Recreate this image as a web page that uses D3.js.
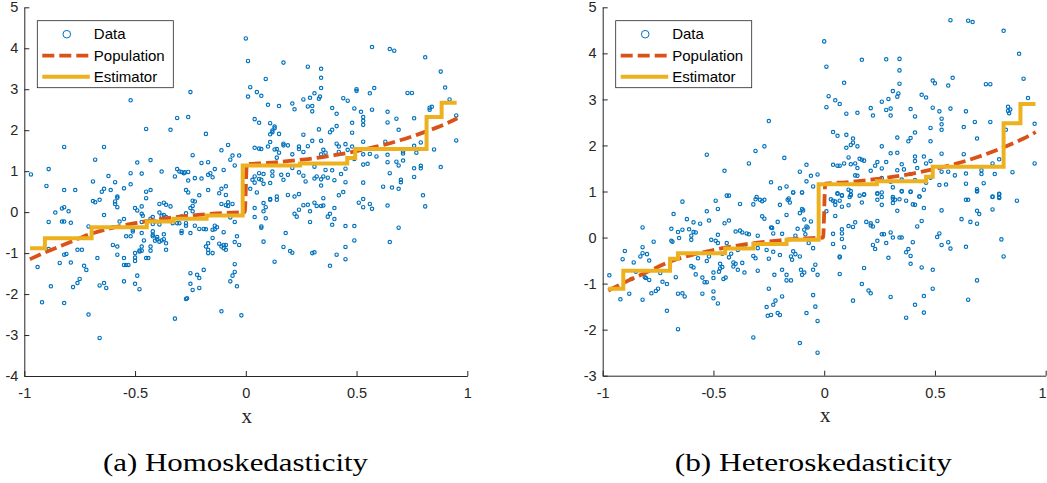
<!DOCTYPE html>
<html><head><meta charset="utf-8">
<script src="https://cdn.jsdelivr.net/npm/d3@7"></script>
<style>body{margin:0;background:#fff}svg{display:block}</style>
</head><body>
<svg id="chart" width="1047" height="483"></svg>
<script>
// ---------------- data ----------------
const xTicks = [-1, -0.5, 0, 0.5, 1];
const xTickLabels = ["-1", "-0.5", "0", "0.5", "1"];
const yTicksHomo = [-4, -3, -2, -1, 0, 1, 2, 3, 4, 5];
const yTicksHetero = [-3, -2, -1, 0, 1, 2, 3, 4, 5];
const legendLabels = ["Data", "Population", "Estimator"];
const captions = ["(a) Homoskedasticity", "(b) Heteroskedasticity"];
const xLabel = "x";

// population (true regression function)
const popX = [-0.975, -0.9, -0.8, -0.7, -0.6, -0.5, -0.4, -0.3, -0.2, -0.1, -0.005, 0.005, 0.1, 0.2, 0.3, 0.4, 0.5, 0.6, 0.7, 0.8, 0.9, 0.955];
const popY = [-1.15, -0.97, -0.75, -0.53, -0.38, -0.27, -0.18, -0.11, -0.06, -0.02, 0.0, 1.17, 1.2, 1.25, 1.31, 1.39, 1.49, 1.61, 1.76, 1.94, 2.15, 2.29];

// estimator step functions (break x, level y)
const estHomoX = [-0.974, -0.907, -0.696, -0.447, -0.327, -0.177, -0.014, 0.245, 0.458, 0.494, 0.816, 0.884, 0.952];
const estHomoY = [-0.88, -0.64, -0.37, -0.23, -0.16, -0.08, 1.14, 1.19, 1.32, 1.54, 2.32, 2.67, 2.67];
const estHeteroX = [-0.975, -0.907, -0.696, -0.66, -0.447, -0.32, -0.17, -0.025, 0.238, 0.46, 0.49, 0.81, 0.886, 0.954];
const estHeteroY = [-1.11, -0.72, -0.46, -0.34, -0.24, -0.14, -0.05, 1.16, 1.22, 1.32, 1.54, 2.48, 2.9, 2.9];

// scatter data [x, y]
const homoData = [
[-0.97,0.92],[-0.89,1.05],[-0.9,0.64],[-0.82,1.59],[-0.82,0.54],[-0.77,0.54],[-0.69,0.75],[-0.68,1.28],[-0.64,1.59],[-0.62,0.88],[-0.65,0.5],[-0.64,0.57],[-0.61,0.54],[-0.59,0.73],[-0.58,0.38],[-0.58,0.35],[-0.55,0.58],[-0.52,2.73],[-0.52,0.95],[-0.52,0.68],[-0.49,1.21],[-0.47,0.94],[-0.45,2.03],[-0.45,0.5],[-0.43,0.54],[-0.43,1.27],[-0.45,0.34],[-0.38,0.99],[-0.34,2.01],[-0.31,2.3],[-0.26,2.32],[-0.25,2.93],[-0.32,0.87],[-0.31,1.05],[-0.3,0.99],[-0.29,0.98],[-0.28,0.95],[-0.275,0.97],[-0.26,0.98],[-0.26,0.77],[-0.27,0.54],[-0.26,0.48],[-0.24,1.39],[-0.23,0.83],[-0.21,0.41],[-0.2,1.2],[-0.2,0.82],[-0.18,1.91],[-0.17,1.22],[-0.17,0.91],[-0.16,0.95],[-0.15,0.85],[-0.17,0.54],[-0.14,1.05],[-0.12,0.46],[-0.11,1.51],[-0.1,1.03],[-0.11,0.57],[-0.09,0.63],[-0.09,0.42],[-0.08,1.64],[-0.07,1.28],[-0.06,1.38],[-0.05,1.14],[-0.03,1.38],
[-0.69,0.27],[-0.68,0.24],[-0.66,0.3],[-0.59,0.26],[-0.59,0.2],[-0.58,0.12],[-0.24,0.28],[-0.23,0.26],[-0.24,0.15],[-0.25,0.1],[-0.11,0.2],[-0.08,0.24],[-0.09,0.17],[-0.08,0.15],[-0.06,0.2],[-0.07,-0.13],[-0.86,-0.01],[-0.83,0.09],[-0.82,0.12],[-0.8,0.02],[-0.89,-0.24],[-0.83,-0.23],[-0.82,-0.23],[-0.79,-0.26],[-0.64,-0.07],[-0.71,-0.35],[-0.57,-0.23],[-0.55,-0.17],[-0.5,0.1],[-0.47,0.14],[-0.49,0.04],[-0.47,-0.04],[-0.465,-0.09],[-0.43,-0.16],[-0.47,-0.24],[-0.42,-0.29],[-0.42,-0.12],[-0.39,0.2],[-0.37,0.23],[-0.36,0.18],[-0.34,0.14],[-0.39,-0.01],[-0.38,-0.09],[-0.39,-0.3],[-0.41,-0.23],[-0.37,-0.07],[-0.36,-0.12],[-0.31,-0.27],[-0.33,-0.27],[-0.3,-0.27],[-0.27,-0.27],[-0.27,-0.33],[-0.29,-0.46],[-0.29,-0.51],[-0.25,-0.51],[-0.23,-0.33],[-0.21,-0.41],[-0.19,-0.41],[-0.18,-0.42],[-0.15,-0.43],[-0.14,-0.33],[-0.13,-0.37],[-0.1,-0.49],[-0.6,-0.37],[-0.51,-0.43],[-0.51,-0.47],[-0.52,-0.59],[-0.54,-0.59],[-0.47,-0.51],[-0.46,-0.69],[-0.42,-0.47],[-0.42,-0.55],[-0.42,-0.59],[-0.4,-0.61],[-0.4,-0.66],[-0.41,-0.7],[-0.39,-0.72],[-0.38,-0.69],[-0.37,-0.66],[-0.37,-0.54],[-0.36,-0.76],[-0.36,-0.92],[-0.43,-0.94],[-0.43,-0.84],[-0.47,-0.94],[-0.47,-0.84],[-0.48,-0.94],[-0.5,-1.0],[-0.5,-1.11],[-0.5,-1.19],[-0.48,-0.96],[-0.45,-1.12],[-0.44,-1.12],[-0.54,-1.29],[-0.55,-1.29],[-0.53,-1.29],[-0.6,-0.8],[-0.58,-0.84],[-0.58,-1.04],[-0.55,-1.12],[-0.94,-1.34],[-0.89,-0.9],[-0.84,-1.24],[-0.82,-1.04],[-0.81,-1.02],[-0.79,-1.23],[-0.76,-0.92],[-0.74,-0.92],[-0.73,-1.31],[-0.72,-1.41],[-0.78,-1.83],[-0.76,-1.73],[-0.75,-1.63],[-0.71,-2.5],[-0.88,-1.81],[-0.92,-2.2],[-0.82,-2.22],[-0.67,-1.12],[-0.66,-1.79],[-0.64,-1.73],[-0.63,-1.85],[-0.66,-3.07],[-0.55,-1.69],[-0.5,-1.75],[-0.48,-1.88],[-0.49,-1.55],[-0.32,-2.6],[-0.27,-2.12],[-0.265,-2.1],[-0.25,-1.49],[-0.25,-1.75],[-0.24,-1.9],[-0.22,-1.53],[-0.21,-1.61],[-0.21,-1.85],[-0.19,-1.41],[-0.18,-0.84],[-0.17,-0.92],[-0.17,-1.0],[-0.17,-0.76],[-0.15,-1.0],[-0.15,-0.63],[-0.14,-0.42],[-0.12,-0.77],[-0.11,-0.84],[-0.1,-0.8],[-0.1,-0.88],[-0.09,-0.8],[-0.09,-0.92],[-0.07,-1.69],[-0.06,-1.55],[-0.05,-1.46],[-0.04,-1.81],[-0.04,-0.59],[-0.03,-0.8],[-0.02,-2.52],[-0.11,-2.42],[-0.29,-0.11],[-0.27,-0.03],[-0.24,0.02],
[0.04,0.1],[0.08,0.22],[0.09,0.12],[0.08,0.02],[0.09,-0.15],[0.04,-0.12],[0.07,-0.35],[0.07,-0.38],[0.08,-0.72],[0.11,0.3],[0.14,0.3],[0.13,-1.21],[0.17,-0.85],[0.18,-0.51],[0.2,-0.95],[0.21,-0.99],[0.22,-0.04],[0.23,-0.11],[0.24,0.06],[0.26,0.17],[0.28,0.18],[0.29,0.02],[0.31,0.23],[0.32,0.15],[0.29,-0.24],[0.31,-0.98],[0.3,-1.0],[0.34,0.15],[0.35,0.16],[0.37,-0.11],[0.38,-0.04],[0.4,-0.17],[0.39,-0.31],[0.4,0.1],[0.45,-0.34],[0.49,-0.34],[0.45,-0.85],[0.41,-1.04],[0.45,-1.15],[0.38,-1.31],[0.49,-0.69],[0.51,0.23],[0.53,0.12],[0.56,0.2],[0.57,0.08],[0.64,0.16],[0.69,-0.38],[0.65,-0.73],[0.81,0.14],[-0.05,-0.24],[-0.05,-0.73],[-0.05,-1.27],
[0.0,4.24],[0.01,3.69],[0.17,3.65],[0.28,3.55],[0.34,3.5],[0.34,3.28],[0.09,3.25],[0.02,3.05],[0.05,2.93],[0.07,2.84],[0.01,2.82],[0.34,3.03],[0.31,2.9],[0.29,2.79],[0.335,2.82],[0.33,2.77],[0.26,2.75],[0.21,2.65],[0.1,2.62],[0.15,2.59],[0.28,2.58],[0.3,2.59],[0.22,2.51],[0.3,2.46],[0.39,2.54],[0.41,2.4],[0.44,2.78],[0.46,2.72],[0.5,3.0],[0.5,2.96],[0.58,3.03],[0.56,2.9],[0.57,4.03],[0.65,3.98],[0.67,3.94],[0.81,3.78],[0.88,3.43],[0.9,3.04],[0.92,2.75],[0.73,2.91],[0.75,2.91],[0.49,2.53],[0.52,2.45],[0.57,2.5],[0.64,2.45],[0.53,2.32],[0.53,2.23],[0.53,2.13],[0.48,2.18],[0.48,1.94],[0.64,2.19],[0.68,2.28],[0.76,2.29],[0.69,2.01],[0.83,2.55],[0.84,2.57],[0.83,2.5],[0.95,2.36],[0.95,1.75],[0.04,2.27],[0.06,2.18],[0.11,2.17],[0.13,2.09],[0.13,2.05],[0.12,1.99],[0.12,1.95],[0.11,1.9],[0.15,1.91],[0.33,2.02],[0.38,1.95],[0.39,2.01],[0.41,2.1],[0.26,1.89],[0.11,1.71],[0.04,1.57],[0.06,1.55],[0.07,1.54],[0.1,1.6],[0.13,1.53],[0.14,1.54],[0.17,1.67],[0.17,1.63],[0.19,1.63],[0.15,1.45],[0.14,1.33],[0.24,1.6],[0.24,1.54],[0.28,1.61],[0.26,1.47],[0.21,1.41],[0.3,1.74],[0.34,1.74],[0.34,1.41],[0.35,1.52],[0.36,1.45],[0.41,1.67],[0.42,1.6],[0.45,1.66],[0.42,1.47],[0.46,1.52],[0.53,1.72],[0.48,1.6],[0.53,1.41],[0.56,1.42],[0.59,1.36],[0.63,1.72],[0.64,1.4],[0.71,1.43],[0.71,1.48],[0.76,1.62],[0.79,1.7],[0.77,1.45],[0.85,1.53],[0.64,1.22],[0.68,1.23],[0.71,1.26],[0.79,1.13],[0.79,1.07],[0.76,1.07],[0.88,1.1],[0.76,0.86],[0.8,0.41],[0.65,0.95],[0.62,0.62],[0.66,0.6],[0.69,0.57],[0.7,0.79],[0.7,0.73],[0.69,1.14],[0.53,0.72],[0.55,1.18],[0.53,1.16],[0.49,1.3],[0.45,1.06],[0.43,0.93],[0.45,0.73],[0.44,0.49],[0.42,0.41],[0.4,0.78],[0.39,1.02],[0.37,0.84],[0.36,1.03],[0.35,0.87],[0.34,0.65],[0.31,1.11],[0.32,0.87],[0.34,0.8],[0.31,0.82],[0.27,0.75],[0.26,0.89],[0.24,0.97],[0.21,1.08],[0.17,0.79],[0.16,0.91],[0.19,0.91],[0.12,0.89],[0.12,0.99],[0.08,0.93],[0.06,0.95],[0.06,0.81],[0.07,0.79],[0.03,0.79],[0.04,0.87],[0.04,0.72],[0.11,0.71],[0.08,0.69],[0.02,0.57],[0.05,0.48],[0.19,0.42],[0.22,0.38],[0.24,0.44],[0.14,0.38],[0.11,0.32],[0.35,0.34],[0.53,0.32]
];

const heteroData = [
[-0.53,1.8],[-0.45,1.45],[-0.43,0.91],[-0.34,1.61],[-0.31,1.88],[-0.27,1.98],[-0.25,2.53],[-0.24,1.2],[-0.2,1.07],[-0.17,1.11],[-0.18,1.73],[-0.14,0.98],[-0.11,1.43],
[0.0,4.26],[0.01,3.71],[0.17,3.86],[0.28,3.87],[0.34,3.88],[0.34,3.63],[0.57,4.72],[0.65,4.71],[0.67,4.68],[0.81,4.49],[0.88,3.99],[0.9,3.45],[0.92,3.03],[0.09,3.36],[0.34,3.34],[0.31,3.18],[0.335,3.13],[0.33,3.06],[0.29,3.01],[0.26,2.95],[0.02,3.07],[0.05,2.98],[0.07,2.9],[0.01,2.83],[0.1,2.69],[0.15,2.71],[0.21,2.81],[0.22,2.65],[0.28,2.77],[0.3,2.8],[0.3,2.65],[0.39,2.79],[0.41,2.63],[0.44,3.1],[0.46,3.04],[0.49,3.41],[0.5,3.35],[0.58,3.47],[0.56,3.3],[0.73,3.33],[0.75,3.33],[0.49,2.82],[0.52,2.74],[0.57,2.8],[0.64,2.74],[0.83,2.84],[0.84,2.78],[0.83,2.75],[0.835,2.7],[0.53,2.58],[0.53,2.46],[0.53,2.34],[0.48,2.38],[0.48,2.09],[0.63,2.4],[0.68,2.51],[0.75,2.51],[0.69,2.15],[0.82,2.34],[0.95,2.47],[0.95,1.61],[0.04,2.29],[0.06,2.21],[0.1,2.23],[0.13,2.15],[0.13,2.06],[0.12,2.01],[0.1,1.95],[0.15,1.98],[0.33,2.17],[0.38,2.09],[0.39,2.16],[0.41,2.28],[0.26,1.98],[0.11,1.74],[0.04,1.58],[0.06,1.56],[0.07,1.56],[0.09,1.61],[0.12,1.59],[0.14,1.61],[0.16,1.71],[0.17,1.69],[0.18,1.67],[0.15,1.51],[0.14,1.35],[0.24,1.64],[0.23,1.56],[0.28,1.64],[0.26,1.5],[0.21,1.45],[0.3,1.83],[0.33,1.84],[0.35,1.59],[0.33,1.46],[0.36,1.48],[0.41,1.76],[0.41,1.66],[0.45,1.76],[0.42,1.51],[0.46,1.61],[0.53,1.82],[0.48,1.66],[0.53,1.43],[0.56,1.43],[0.59,1.35],[0.63,1.81],[0.64,1.39],[0.71,1.46],[0.71,1.38],[0.76,1.61],[0.79,1.7],[0.77,1.38],[0.85,1.42],[0.52,1.14],[0.55,1.15],[0.45,1.04],[0.43,0.89],[0.39,0.99],[0.35,1.01],[0.31,1.09],[0.3,1.21],[0.26,1.29],[0.41,1.25],[0.39,1.38],[0.46,1.19],[0.48,1.3],[0.64,1.17],[0.72,1.18],[0.69,1.05],[0.69,1.01],[0.76,0.88],[0.79,0.95],[0.79,0.88],[0.64,0.82],[0.18,0.94],[0.12,0.92],[0.12,1.01],[0.11,1.04],[0.06,0.96],[0.08,0.92],[-0.05,1.11],[-0.03,1.37],[-0.08,1.58],[-0.06,1.34],[-0.08,1.22],[-0.1,0.98],[0.26,0.98],[0.24,0.96],[0.31,0.88],[0.15,1.34],[0.35,1.26],
[-0.97,-0.82],[-0.9,-0.29],[-0.91,-0.47],[-0.92,-1.34],[-0.88,-1.22],[-0.87,-0.9],[-0.86,-0.54],[-0.85,-0.74],[-0.83,-0.41],[-0.82,0.22],[-0.82,-1.35],[-0.82,-0.21],[-0.82,-0.34],[-0.81,-0.86],[-0.805,-0.88],[-0.8,-0.36],[-0.79,-0.92],[-0.79,-0.5],[-0.78,-1.21],[-0.77,-0.09],[-0.76,-1.16],[-0.75,-1.11],[-0.74,-0.77],[-0.73,-0.96],[-0.71,-1.01],[-0.71,-1.59],[-0.69,0.19],[-0.69,-0.07],[-0.685,-0.09],[-0.68,0.51],[-0.67,-0.86],[-0.66,-1.22],[-0.66,-1.99],[-0.66,0.12],[-0.655,-0.01],[-0.64,0.17],[-0.64,0.78],[-0.64,-1.21],[-0.63,-1.28],[-0.62,0.4],[-0.61,0.18],[-0.6,0.04],[-0.6,-0.05],[-0.59,0.33],[-0.59,0.12],[-0.58,0.11],[-0.6,-0.62],[-0.59,-0.65],[-0.58,-0.8],[-0.57,-0.45],[-0.56,0.3],[-0.55,-1.22],[-0.55,-0.87],[-0.54,-0.97],[-0.53,-0.97],[-0.53,0.57],[-0.53,-0.51],[-0.52,0.37],[-0.51,-0.05],[-0.52,-0.41],[-0.5,-0.76],[-0.5,-0.88],[-0.5,-1.32],[-0.5,-1.17],[-0.49,0.8],[-0.49,-0.07],[-0.48,-0.12],[-0.48,0.06],[-0.48,0.62],[-0.48,-1.43],[-0.475,-0.74],[-0.47,-0.67],[-0.47,-0.57],[-0.46,-0.64],[-0.46,-0.35],[-0.455,-0.9],[-0.45,0.31],[-0.445,-0.87],[-0.44,-0.12],[-0.44,0.91],[-0.43,0.37],[-0.43,-0.43],[-0.42,-0.35],[-0.41,-0.63],[-0.41,-0.54],[-0.4,-0.57],[-0.4,0.13],[-0.39,-0.27],[-0.39,-0.7],[-0.38,0.73],[-0.38,0.15],[-0.37,-0.55],[-0.37,0.11],[-0.36,-0.76],[-0.36,-0.18],[-0.35,0.09],[-0.34,0.07],[-0.32,0.72],[-0.32,-2.17],[-0.32,-0.4],[-0.31,0.83],[-0.305,0.88],[-0.31,-0.45],[-0.3,0.04],[-0.3,-0.72],[-0.3,-0.23],[-0.29,0.82],[-0.28,0.79],[-0.28,0.46],[-0.27,0.41],[-0.27,0.82],[-0.26,-0.27],[-0.26,-1.51],[-0.255,-1.7],[-0.25,-1.11],[-0.25,-0.46],[-0.24,0.22],[-0.235,0.21],[-0.24,-1.68],[-0.23,0.09],[-0.23,-1.46],[-0.23,-0.31],[-0.225,-0.81],[-0.22,-1.37],[-0.21,-1.64],[-0.21,0.34],[-0.2,-1.68],[-0.2,-0.38],[-0.2,0.71],[-0.19,0.08],[-0.19,-1.28],[-0.19,-0.7],[-0.17,-0.81],[-0.17,-0.93],[-0.17,0.49],[-0.165,0.82],[-0.16,0.85],[-0.155,0.76],[-0.15,-0.93],[-0.15,-0.41],[-0.145,-0.48],[-0.14,-0.3],[-0.14,0.98],[-0.13,-0.36],[-0.13,0.04],[-0.12,0.19],[-0.11,-0.41],[-0.11,0.53],[-0.11,-2.29],[-0.105,-0.7],[-0.1,-0.81],[-0.1,0.98],[-0.1,0.62],[-0.095,0.59],[-0.09,0.39],[-0.09,0.17],[-0.09,-0.76],[-0.085,0.07],[-0.08,0.24],[-0.075,0.22],[-0.08,-1.64],[-0.07,-0.12],[-0.06,0.35],[-0.05,-0.23],[-0.05,-0.7],[-0.04,-0.59],[-0.04,-1.5],[-0.03,-1.81],[-0.03,-0.81],[-0.03,-2.5],[-0.05,-1.25],
[0.06,0.95],[0.08,0.91],[0.03,0.83],[0.04,0.8],[0.05,0.78],[0.07,0.8],[0.05,0.71],[0.08,0.67],[0.115,0.88],[0.12,0.93],[0.11,0.7],[0.16,0.91],[0.17,0.76],[0.18,0.93],[0.24,0.95],[0.26,0.88],[0.24,0.82],[0.26,0.71],[0.31,0.84],[0.32,0.82],[0.31,0.75],[0.34,0.83],[0.37,0.8],[0.35,1.0],[0.39,1.0],[0.4,0.72],[0.41,0.71],[0.43,0.89],[0.45,0.64],[0.33,0.58],[0.01,0.57],[0.05,0.47],[0.04,0.08],[0.04,-0.14],[0.08,0.18],[0.08,0.09],[0.08,-0.03],[0.09,-0.21],[0.07,-0.43],[0.07,-0.41],[0.07,-0.79],[0.11,0.25],[0.13,0.23],[0.14,0.33],[0.19,0.34],[0.21,0.31],[0.21,0.26],[0.22,0.24],[0.24,0.36],[0.26,0.07],[0.27,0.07],[0.24,-0.07],[0.22,-0.16],[0.23,-0.25],[0.28,-0.12],[0.29,-0.44],[0.3,0.11],[0.31,0.0],[0.34,0.0],[0.35,0.0],[0.38,-0.25],[0.37,-0.32],[0.4,-0.1],[0.39,-0.4],[0.39,-0.57],[0.42,0.24],[0.44,0.36],[0.44,-0.65],[0.49,-0.7],[0.51,0.01],[0.52,0.09],[0.53,-0.16],[0.53,0.59],[0.56,-0.1],[0.57,-0.24],[0.62,0.4],[0.65,0.82],[0.64,-0.2],[0.66,0.34],[0.69,0.3],[0.69,0.58],[0.7,0.51],[0.69,1.0],[0.76,0.89],[0.76,0.61],[0.79,0.94],[0.79,0.86],[0.87,0.8],[0.8,-0.04],[0.81,-0.41],[0.69,-0.93],[0.65,-1.35],[0.49,-1.11],[0.45,-1.27],[0.41,-1.46],[0.45,-1.63],[0.37,-1.74],[0.3,-1.29],[0.21,-1.21],[0.2,-1.15],[0.17,-1.01],[0.13,-1.37],[0.18,-0.66]
];

// ---------------- drawing ----------------
const COLORS = { data: "#0072BD", pop: "#D95319", est: "#EDB120", axis: "#262626" };
const svg = d3.select("#chart");

const panels = [
  { data: homoData, estX: estHomoX, estY: estHomoY, yTicks: yTicksHomo, yDomain: [-4, 5],
    left: 24.3, right: 467.3, top: 7.3, bottom: 376, caption: captions[0], capX: 235.5, capW: 265 },
  { data: heteroData, estX: estHeteroX, estY: estHeteroY, yTicks: yTicksHetero, yDomain: [-3, 5],
    left: 602.7, right: 1045.7, top: 7.3, bottom: 375.7, caption: captions[1], capX: 813.3, capW: 277 }
];

panels.forEach((p, pi) => {
  const x = d3.scaleLinear().domain([-1, 1]).range([p.left, p.right]);
  const y = d3.scaleLinear().domain(p.yDomain).range([p.bottom, p.top]);
  const g = svg.append("g");

  // axes
  const xAxis = d3.axisBottom(x).tickValues(xTicks)
    .tickFormat((d, i) => xTickLabels[i]).tickSizeInner(-5).tickSizeOuter(0).tickPadding(12);
  const yAxis = d3.axisLeft(y).tickValues(p.yTicks)
    .tickFormat(d => String(d)).tickSizeInner(-5).tickSizeOuter(0).tickPadding(6);
  const gx = g.append("g").attr("transform", `translate(0,${p.bottom})`).call(xAxis);
  const gy = g.append("g").attr("transform", `translate(${p.left},0)`).call(yAxis);
  [gx, gy].forEach(a => {
    a.select(".domain").attr("stroke", COLORS.axis).attr("stroke-width", 1);
    a.selectAll(".tick line").attr("stroke", COLORS.axis).attr("stroke-width", 1);
    a.selectAll(".tick text").attr("fill", COLORS.axis)
      .style("font-family", "'Liberation Sans', Arial, sans-serif").style("font-size", "14.5px");
  });
  if (pi === 1) {
    // keep the last tick label inside the page edge
    gx.selectAll(".tick text").filter((d, i) => i === xTicks.length - 1)
      .attr("text-anchor", "end").attr("dx", "0.5");
  }

  // x label
  g.append("text").attr("x", (p.left + p.right) / 2 + 1).attr("y", p.bottom + 46.5)
    .attr("text-anchor", "middle").attr("fill", COLORS.axis)
    .style("font-family", "'Liberation Serif', 'Times New Roman', serif").style("font-size", "21px")
    .text(xLabel);

  // data points
  g.append("g").selectAll("circle").data(p.data).join("circle")
    .attr("cx", d => x(d[0])).attr("cy", d => y(d[1])).attr("r", 1.7)
    .attr("fill", "none").attr("stroke", COLORS.data).attr("stroke-width", 1.15);

  // population
  const popPts = popX.map((v, i) => [v, popY[i]]);
  g.append("path").datum(popPts)
    .attr("d", d3.line().x(d => x(d[0])).y(d => y(d[1])).curve(d3.curveMonotoneX))
    .attr("fill", "none").attr("stroke", COLORS.pop).attr("stroke-width", 3.8)
    .attr("stroke-dasharray", "12,5");

  // estimator
  const estPts = p.estX.map((v, i) => [v, p.estY[i]]);
  g.append("path").datum(estPts)
    .attr("d", d3.line().x(d => x(d[0])).y(d => y(d[1])).curve(d3.curveStepAfter))
    .attr("fill", "none").attr("stroke", COLORS.est).attr("stroke-width", 4);

  // legend
  const lx = p.left + 13, ly = 20.7, lw = 136, lh = 67;
  const lg = g.append("g");
  lg.append("rect").attr("x", lx).attr("y", ly).attr("width", lw).attr("height", lh)
    .attr("fill", "#fff").attr("stroke", COLORS.axis).attr("stroke-width", 0.8);
  const rows = [ly + 13.5, ly + 35, ly + 56];
  lg.append("circle").attr("cx", lx + 29.5).attr("cy", rows[0]).attr("r", 3.8)
    .attr("fill", "none").attr("stroke", COLORS.data).attr("stroke-width", 1);
  lg.append("line").attr("x1", lx + 5).attr("x2", lx + 52.5).attr("y1", rows[1]).attr("y2", rows[1])
    .attr("stroke", COLORS.pop).attr("stroke-width", 3.8).attr("stroke-dasharray", "12,5");
  lg.append("line").attr("x1", lx + 5).attr("x2", lx + 52.5).attr("y1", rows[2]).attr("y2", rows[2])
    .attr("stroke", COLORS.est).attr("stroke-width", 4);
  legendLabels.forEach((t, i) => {
    lg.append("text").attr("x", lx + 56.5).attr("y", rows[i]).attr("dy", "0.35em")
      .attr("fill", "#000").style("font-family", "'Liberation Sans', Arial, sans-serif")
      .style("font-size", "15px").text(t);
  });

  // caption
  g.append("text").attr("x", p.capX).attr("y", 471)
    .attr("text-anchor", "middle").attr("fill", "#000")
    .style("font-family", "'Liberation Serif', 'Times New Roman', serif").style("font-size", "25px")
    .attr("textLength", p.capW).attr("lengthAdjust", "spacingAndGlyphs")
    .text(p.caption);
});
</script>
</body></html>
